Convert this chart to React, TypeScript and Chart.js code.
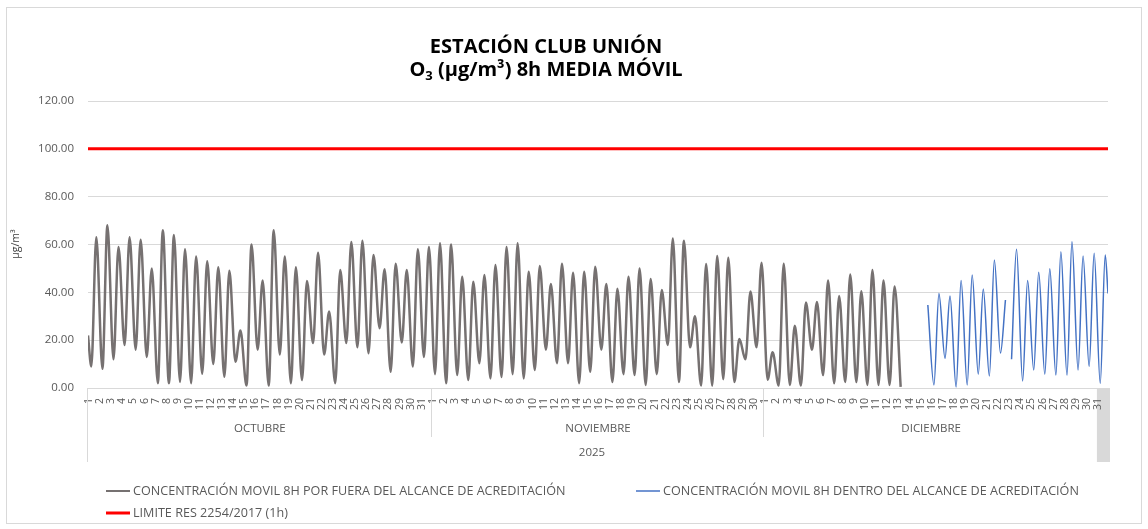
import React, { useEffect, useRef } from "react";
import { Chart, registerables } from "chart.js";

Chart.register(...registerables);

// ---------- DATA ----------
const TITLE_1 = "ESTACIÓN CLUB UNIÓN";
const TITLE_2_MAIN = "O";
const TITLE_2_SUB = "3";
const TITLE_2_REST = " (µg/m³) 8h MEDIA MÓVIL";
const Y_TITLE = "µg/m³";
const YEAR = "2025";
const MONTHS = ["OCTUBRE", "NOVIEMBRE", "DICIEMBRE"];
const MONTH_DAYS = [31, 30, 31];
const Y_TICKS = [0, 20, 40, 60, 80, 100, 120];

const LABEL_GRAY = "CONCENTRACIÓN MOVIL 8H POR FUERA DEL ALCANCE DE ACREDITACIÓN";
const LABEL_BLUE = "CONCENTRACIÓN MOVIL 8H DENTRO DEL ALCANCE DE ACREDITACIÓN";
const LABEL_LIMIT = "LIMITE RES 2254/2017 (1h)";

const LIMIT = 100;

// daily minimum (early morning) and maximum (afternoon) of the 8h moving average
const GRAY_FIRST = 22;
const GRAY_LOW_OCT = [9, 8, 12, 18, 16, 13, 2, 2, 2.5, 2, 6, 10, 4.7, 11, 1, 16, 1, 14, 2, 3.3, 18.8, 14, 2, 18.8, 17, 14.5, 25, 6.8, 19, 9, 13];
const GRAY_HIGH_OCT = [63, 68, 59, 63, 62, 50, 66, 64, 58, 55, 53, 50.5, 49, 24, 60, 45, 66, 55, 50.5, 44.7, 56.6, 32, 49.3, 61, 61.6, 55.6, 49.7, 52, 49.3, 58, 59];
const GRAY_LOW_NOV = [5.8, 2, 5.4, 3.3, 10.4, 4, 4.6, 5.8, 4, 7.5, 16, 10.4, 10.4, 2, 6.8, 16, 2.5, 5.8, 5.4, 1.3, 5.8, 18, 2.5, 17, 1, 1, 3.7, 2.5, 12, 17];
const GRAY_HIGH_NOV = [60.5, 60, 46.5, 44.4, 47.2, 51.4, 59, 60.5, 48.6, 51, 43.5, 52, 48.2, 48.6, 50.7, 43.5, 41.5, 46.5, 50, 45.6, 41, 62.5, 61.6, 30, 51.8, 55.2, 54.5, 20.5, 40.3, 52.4];
const GRAY_LOW_DEC = [3.5, 1, 1.3, 1, 16, 5.4, 2, 2.5, 2.5, 1.3, 1.3, 1.3, 0.5];
const GRAY_HIGH_DEC = [15, 52, 26, 35.7, 36, 44.9, 38.5, 47.5, 40.5, 49.3, 44.9, 42.4];

const N = null;
const BLUE_LOW_DEC = [N, N, N, N, N, N, N, N, N, N, N, N, N, N, N, 1.3, 12.4, 0.4, 1.3, 5.8, 5, 14.6, 12, 2.9, 7.5, 5.8, 5.4, 5.4, 7.5, 9, 2];
const BLUE_HIGH_DEC = [N, N, N, N, N, N, N, N, N, N, N, N, N, N, 34.7, 39.5, 38.5, 44.9, 47.2, 41.4, 53.5, 36.8, 58, 44.9, 48.4, 49.9, 57, 61.2, 55.2, 56.3, 55.6];
const BLUE_LAST = 39.5;
const BLUE_BREAK_DEC_DAYS = [23];

// time of day (fraction) of the daily minimum and maximum
const LOW_AT = 0.3;
const HIGH_AT = 0.75;

// ---------- BUILD ----------
const MONTH_START = MONTH_DAYS.map((_, i) => MONTH_DAYS.slice(0, i).reduce((a, b) => a + b, 0));
const TOTAL_DAYS = MONTH_DAYS.reduce((a, b) => a + b, 0);
const DAY_LABELS: string[] = [];
MONTH_DAYS.forEach((n) => { for (let d = 1; d <= n; d++) DAY_LABELS.push(String(d)); });

type P = { x: number; y: number | null };
function buildSeries(lows: (number | null)[][], highs: (number | null)[][], breaks: number[][] = []): P[] {
  const pts: P[] = [];
  lows.forEach((lowArr, m) => {
    const highArr = highs[m];
    const len = Math.max(lowArr.length, highArr.length);
    for (let i = 0; i < len; i++) {
      const base = MONTH_START[m] + i;
      if ((breaks[m] || []).includes(i + 1)) pts.push({ x: base + 0.05, y: null });
      const lo = lowArr[i];
      const hi = highArr[i];
      if (lo !== null && lo !== undefined) pts.push({ x: base + LOW_AT, y: lo });
      if (hi !== null && hi !== undefined) pts.push({ x: base + HIGH_AT, y: hi });
    }
  });
  return pts;
}

const grayPts: P[] = [{ x: 0, y: GRAY_FIRST }, ...buildSeries(
  [GRAY_LOW_OCT, GRAY_LOW_NOV, GRAY_LOW_DEC],
  [GRAY_HIGH_OCT, GRAY_HIGH_NOV, GRAY_HIGH_DEC]
)];
const bluePts: P[] = [...buildSeries([[], [], BLUE_LOW_DEC], [[], [], BLUE_HIGH_DEC], [[], [], BLUE_BREAK_DEC_DAYS]), { x: TOTAL_DAYS, y: BLUE_LAST }];
const limitPts: P[] = [{ x: 0, y: LIMIT }, { x: TOTAL_DAYS, y: LIMIT }];

const GRAY = "#767171";
const BLUE = "#4472C4";
const RED = "#FF0000";
const GRID = "#D9D9D9";
const TXT = "#595959";
const FONT = "'Open Sans', sans-serif";

const overlay = {
  id: "overlay",
  beforeDraw(chart: any) {
    const { ctx } = chart;
    const xs = chart.scales.x;
    const y0 = chart.scales.y.getPixelForValue(0);
    ctx.save();
    ctx.fillStyle = "#D9D9D9";
    const a = xs.getPixelForValue(TOTAL_DAYS - 1);
    const b = xs.getPixelForValue(TOTAL_DAYS) + 2;
    ctx.fillRect(a, y0, b - a, 74);
    ctx.restore();
  },
  afterDraw(chart: any) {
    const { ctx, width, height } = chart;
    const xs = chart.scales.x;
    const y0 = chart.scales.y.getPixelForValue(0);
    ctx.save();
    // outer border
    ctx.strokeStyle = GRID;
    ctx.lineWidth = 1;
    ctx.strokeRect(6.5, 7.5, width - 13, height - 13);

    // title
    ctx.fillStyle = "#000";
    ctx.textBaseline = "alphabetic";
    ctx.textAlign = "left";
    const cx = 546;
    const big = `bold 20px ${FONT}`;
    const small = `bold 13px ${FONT}`;
    ctx.font = big;
    const w1 = ctx.measureText(TITLE_1).width;
    ctx.fillText(TITLE_1, cx - w1 / 2, 52.5);
    const wO = ctx.measureText(TITLE_2_MAIN).width;
    const wR = ctx.measureText(TITLE_2_REST).width;
    ctx.font = small;
    const wS = ctx.measureText(TITLE_2_SUB).width;
    let sx = cx - (wO + wS + wR) / 2;
    ctx.font = big;
    ctx.fillText(TITLE_2_MAIN, sx, 76);
    sx += wO;
    ctx.font = small;
    ctx.fillText(TITLE_2_SUB, sx, 80);
    sx += wS;
    ctx.font = big;
    ctx.fillText(TITLE_2_REST, sx, 76);

    // y title
    ctx.save();
    ctx.translate(16, 244);
    ctx.rotate(-Math.PI / 2);
    ctx.font = `10.5px ${FONT}`;
    ctx.fillStyle = "#404040";
    ctx.textAlign = "center";
    ctx.textBaseline = "middle";
    ctx.fillText(Y_TITLE, 0, 0);
    ctx.restore();

    // category group separators
    ctx.strokeStyle = GRID;
    ctx.lineWidth = 1;
    MONTH_START.forEach((s, i) => {
      const px = Math.round(xs.getPixelForValue(s)) - 0.5;
      ctx.beginPath();
      ctx.moveTo(px, y0);
      ctx.lineTo(px, i === 0 ? 462 : 437);
      ctx.stroke();
    });

    // month labels
    ctx.fillStyle = TXT;
    ctx.textAlign = "center";
    ctx.textBaseline = "middle";
    ctx.font = `11.5px ${FONT}`;
    MONTHS.forEach((m, i) => {
      const a = xs.getPixelForValue(MONTH_START[i]);
      const b = xs.getPixelForValue(MONTH_START[i] + MONTH_DAYS[i]);
      ctx.fillText(m, (a + b) / 2 - (i === 2 ? 5 : 0), 429);
    });
    ctx.fillText(YEAR, (xs.getPixelForValue(0) + xs.getPixelForValue(TOTAL_DAYS)) / 2 - 6, 453);

    // legend
    const items = [
      { label: LABEL_GRAY, color: GRAY, w: 2, x: 106, y: 491 },
      { label: LABEL_BLUE, color: BLUE, w: 1.5, x: 636, y: 491 },
      { label: LABEL_LIMIT, color: RED, w: 3, x: 106, y: 513 },
    ];
    ctx.font = `12.6px ${FONT}`;
    ctx.textAlign = "left";
    items.forEach((it) => {
      ctx.strokeStyle = it.color;
      ctx.lineWidth = it.w;
      ctx.beginPath();
      ctx.moveTo(it.x, it.y);
      ctx.lineTo(it.x + 24, it.y);
      ctx.stroke();
      ctx.fillStyle = TXT;
      ctx.fillText(it.label, it.x + 27, it.y + 0.5);
    });
    ctx.restore();
  },
};

export default function App() {
  const ref = useRef<HTMLCanvasElement>(null);
  useEffect(() => {
    if (!ref.current) return;
    Chart.defaults.font.family = FONT;
    const chart = new Chart(ref.current, {
      type: "line",
      data: {
        datasets: [
          {
            label: LABEL_GRAY,
            data: grayPts as any,
            borderColor: GRAY,
            borderWidth: 2.5,
            pointRadius: 0,
            cubicInterpolationMode: "monotone",
            spanGaps: false,
          },
          {
            label: LABEL_BLUE,
            data: bluePts as any,
            borderColor: BLUE,
            borderWidth: 1.5,
            pointRadius: 0,
            cubicInterpolationMode: "monotone",
            spanGaps: false,
          },
          {
            label: LABEL_LIMIT,
            data: limitPts as any,
            borderColor: RED,
            borderWidth: 3,
            pointRadius: 0,
          },
        ],
      },
      options: {
        animation: false,
        responsive: false,
        events: [],
        layout: { padding: { top: 101, right: 40, bottom: 101, left: 0 } },
        plugins: { legend: { display: false }, title: { display: false }, tooltip: { enabled: false } },
        scales: {
          x: {
            type: "linear",
            min: 0,
            max: TOTAL_DAYS,
            grid: { display: false },
            border: { display: true, color: GRID },
            afterBuildTicks: (axis: any) => {
              axis.ticks = DAY_LABELS.map((_, i) => ({ value: i + 0.1 }));
            },
            afterFit: (axis: any) => {
              axis.height = 40;
            },
            ticks: {
              autoSkip: false,
              minRotation: 90,
              maxRotation: 90,
              padding: 2,
              color: TXT,
              font: { size: 10.5 },
              callback: (_v: any, i: number) => DAY_LABELS[i],
            },
          },
          y: {
            min: 0,
            max: 120,
            afterBuildTicks: (axis: any) => {
              axis.ticks = Y_TICKS.map((v) => ({ value: v }));
            },
            afterFit: (axis: any) => {
              axis.width = 88;
            },
            grid: { color: GRID, drawTicks: false },
            border: { display: false },
            ticks: {
              padding: 14,
              color: TXT,
              font: { size: 11.5 },
              callback: (v: any) => Number(v).toFixed(2),
            },
          },
        },
      },
      plugins: [overlay],
    });
    return () => chart.destroy();
  }, []);
  return (
    <div style={{ position: "fixed", left: 0, top: 0, width: 1148, height: 529, background: "#fff" }}>
      <canvas ref={ref} width={1148} height={529} />
    </div>
  );
}
